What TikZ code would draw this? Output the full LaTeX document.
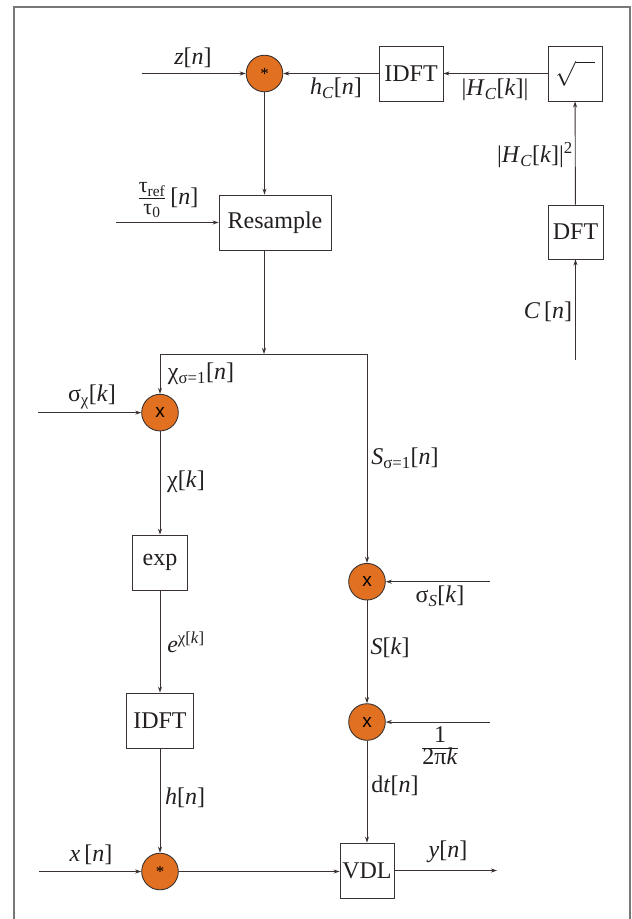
\documentclass[tikz,border=0pt]{standalone}
\usepackage{fontspec}
\setmainfont{Liberation Serif}
\newfontfamily\arialf{Liberation Sans}
\usetikzlibrary{arrows.meta}
\definecolor{lnc}{RGB}{58,50,48}
\definecolor{txc}{RGB}{35,31,32}
\definecolor{opfill}{RGB}{225,113,32}
\definecolor{framec}{RGB}{120,120,120}
\newcommand\iv[1]{\textit{#1}}
\begin{document}
\begin{tikzpicture}[x=1pt,y=-1pt,
  every node/.style={font=\fontsize{24}{28}\selectfont, text=txc},
  blk/.style={draw=lnc, line width=0.9pt, fill=white, inner sep=0pt, minimum width=#1, minimum height=55},
  blk/.default=55,
  opnode/.style={circle, draw=lnc, line width=0.9pt, fill=opfill, minimum size=36.6, inner sep=0pt},
  star/.style={font=\fontsize{17}{17}\selectfont, text=black},
  times/.style={font=\arialf\fontsize{19}{19}\selectfont, text=black},
  lbl/.style={inner sep=0pt},
  arr/.style={draw=lnc, line width=0.9pt, -{Stealth[length=6pt,width=4pt]}},
  ln/.style={draw=lnc, line width=0.9pt}]
\useasboundingbox (0,0) rectangle (632,919);
\fill[white] (0,0) rectangle (632,919);
\draw[framec, line width=2pt] (13.5,925) -- (13.5,6.7) -- (630,6.7) -- (630,925);

% top row
\node[opnode, star] (conv1) at (264.5,73.5) {\raisebox{-3pt}{*}};
\node[blk=64] (idft1) at (411,73.5) {IDFT};
\node[blk=54] (sqrtb) at (575,73.5) {$\sqrt{\rule{0pt}{14pt}\hspace{19pt}}$};
\node[blk=55, minimum height=54] (dft) at (575.5,232) {DFT};
\coordinate (cin) at (575.5,360);
\coordinate (zin) at (142,73.5);

\draw[arr] (cin) -- (dft);
\draw[arr] (dft) -- (sqrtb);
\draw[arr] (sqrtb) -- (idft1);
\draw[arr] (idft1) -- (conv1);
\draw[arr] (zin) -- (conv1);

\node[lbl] (lz) at (193,58) {\iv{z}[\iv{n}]};
\node[lbl] (lhc) at (336,88) {\iv{h}\textsubscript{\iv{C}}[\iv{n}]};
\node[lbl] (lHc) at (495,90) {|\iv{H}\textsubscript{\iv{C}}[\iv{k}]|};
\node[lbl] (lHc2) at (535,155) {|\iv{H}\textsubscript{\iv{C}}[\iv{k}]|\textsuperscript{2}};
\node[lbl] (lC) at (548,312) {\iv{C}\,[\iv{n}]};

% resample
\node[blk=112] (res) at (275,222.5) {Resample};
\coordinate (tauin) at (116,222.5);
\draw[arr] (tauin) -- (res.west);
\draw[arr] (conv1) -- (conv1 |- res.north);
\node[lbl] (ltau) at (168,200) {$\frac{\hbox{\raisebox{1.5pt}{\fontsize{22}{23}\selectfont τ\textsubscript{ref}}}}{\hbox{\raisebox{-1.5pt}{\fontsize{22}{23}\selectfont τ\textsubscript{0}}}}$\,[\iv{n}]};

\coordinate (split) at (264,354);
\draw[arr] (res.south -| split) -- (split);

% left branch
\node[opnode, times] (mul1) at (160,412.6) {x};
\node[blk=55] (expb) at (160,562.5) {exp};
\node[blk=67] (idft2) at (160,720.5) {IDFT};
\node[opnode, star] (conv2) at (160,871.5) {\raisebox{-3pt}{*}};
\node[blk=54] (vdl) at (367,870.5) {VDL};
\coordinate (sigin) at (38,412.6);
\coordinate (xin) at (39,871.5);
\coordinate (yout) at (497,870.5);

\draw[arr] (split) -| (mul1);
\draw[arr] (sigin) -- (mul1);
\draw[arr] (mul1) -- (expb);
\draw[arr] (expb) -- (idft2);
\draw[arr] (idft2) -- (conv2);
\draw[arr] (xin) -- (conv2);
\draw[arr] (conv2) -- (conv2 -| vdl.west);
\draw[arr] (vdl) -- (yout);

\node[lbl] (lchi1) at (201,374) {χ\textsubscript{σ=1}[\iv{n}]};
\node[lbl] (lsigchi) at (92,397) {σ\textsubscript{χ}[\iv{k}]};
\node[lbl] (lchik) at (186,482) {χ[\iv{k}]};
\node[lbl] (lexp) at (186,642) {\iv{e}\textsuperscript{χ[\iv{k}]}};
\node[lbl] (lh) at (185,798) {\iv{h}[\iv{n}]};
\node[lbl] (lx) at (91,855) {\iv{x}\,[\iv{n}]};
\node[lbl] (ly) at (448,852) {\iv{y}[\iv{n}]};

% right branch
\node[opnode, times] (mul2) at (367,581.7) {x};
\node[opnode, times] (mul3) at (367,722) {x};
\coordinate (sigSin) at (490,581.7);
\coordinate (fracin) at (490,722);
\draw[arr] (split) -| (mul2);
\draw[arr] (sigSin) -- (mul2);
\draw[arr] (mul2) -- (mul3);
\draw[arr] (fracin) -- (mul3);
\draw[arr] (mul3) -- (vdl);

\node[lbl] (lS1) at (405,458) {\iv{S}\textsubscript{σ=1}[\iv{n}]};
\node[lbl] (lsigS) at (440,596) {σ\textsubscript{\iv{S}}[\iv{k}]};
\node[lbl] (lSk) at (390,648) {\iv{S}[\iv{k}]};
\node[lbl] (lfrac) at (440,746) {$\frac{\hbox{\raisebox{1.5pt}{1}}}{\hbox{\raisebox{-1.5pt}{2π\iv{k}}}}$};
\node[lbl] (ldt) at (395,786) {d\iv{t}[\iv{n}]};
\end{tikzpicture}
\end{document}
